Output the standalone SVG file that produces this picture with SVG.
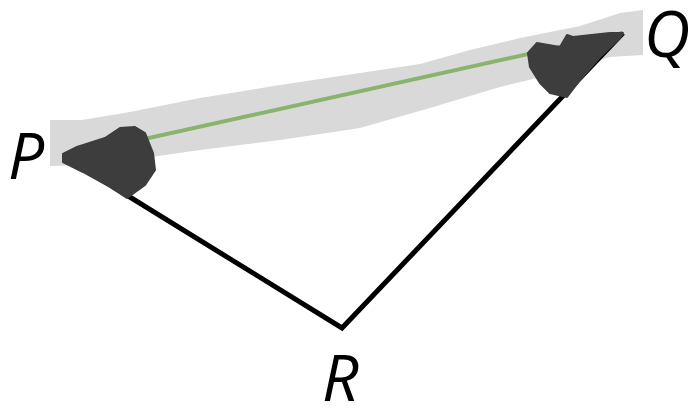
<svg xmlns="http://www.w3.org/2000/svg" width="695" height="408" viewBox="0 0 695 408">
<style>
.lbl{font-family:"Open Sans","Liberation Sans",sans-serif;font-style:italic;font-size:64px;fill:#000}
.edge{stroke:#000;stroke-width:5;fill:none;stroke-linejoin:miter}
.blob{fill:#3d3d3d;stroke:#3d3d3d;stroke-width:2;stroke-linejoin:round}
</style>
<rect width="695" height="408" fill="#fff"/>
<g id="band">
<path d="M50,120 L82,120 L130,112 L200,98 L280,85 L360,73 L420,64 L470,50 L520,38 L580,26 L620,13 L643,10 L643,55 L610,57 L570,70 L500,87 L430,108 L360,128 L280,140 L200,150 L130,160 L100,165 L50,166 Z" fill="#d9d9d9"/>
</g>
<g id="connectors">
<path class="edge" d="M65,157 L342,328 L623,33"/>
<line x1="63" y1="157" x2="623" y2="33" stroke="#88b46c" stroke-width="4"/>
</g>
<g id="angleP">
<path class="blob" d="M63,154 L77,147 L105,138 L120,128 L135,127 L145,133 L153,153 L155,170 L145,185 L127,198 L110,187 L83,172 L63,162 Z"/>
</g>
<g id="angleQ">
<path class="blob" d="M623,33 L610,33 L573,37 L567,35 L560,47 L537,43 L528,53 L530,67 L540,83 L550,93 L567,97 L580,80 L600,57 L620,38 Z"/>
</g>
<g id="P"><text class="lbl" x="8" y="179">P</text></g>
<g id="Q"><text class="lbl" x="644" y="57">Q</text></g>
<g id="R"><text class="lbl" x="322" y="401">R</text></g>
</svg>
